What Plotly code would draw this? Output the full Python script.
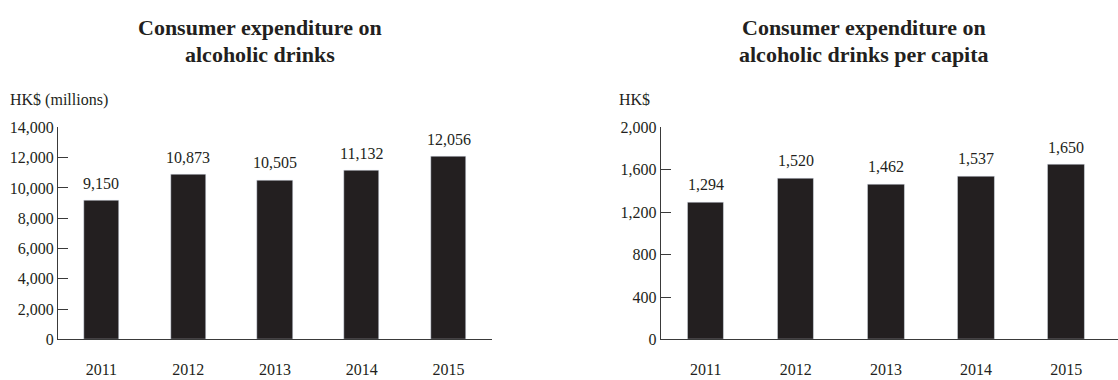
import plotly.graph_objects as go

# Data
years = ["2011", "2012", "2013", "2014", "2015"]
expenditure_millions = [9150, 10873, 10505, 11132, 12056]
expenditure_per_capita = [1294, 1520, 1462, 1537, 1650]

left_ticks = [0, 2000, 4000, 6000, 8000, 10000, 12000, 14000]
right_ticks = [0, 400, 800, 1200, 1600, 2000]

left_title = ["Consumer expenditure on", "alcoholic drinks"]
right_title = ["Consumer expenditure on", "alcoholic drinks per capita"]
left_unit = "HK$ (millions)"
right_unit = "HK$"

W, H = 1118, 380
INK = "#231f20"
AXIS = "#3a3a3a"
FONT = "Liberation Serif, Times New Roman, serif"


def px(x):
    return x / W


def py(y):
    return 1 - y / H


fig = go.Figure()

fig.add_trace(go.Bar(x=years, y=expenditure_millions, marker_color=INK,
                     width=0.405, xaxis="x", yaxis="y", showlegend=False,
                     hoverinfo="x+y"))
fig.add_trace(go.Bar(x=years, y=expenditure_per_capita, marker_color=INK,
                     width=0.405, xaxis="x2", yaxis="y2", showlegend=False,
                     hoverinfo="x+y"))

annotations = []
# value labels above each bar (category axes are positioned by index)
for ys, xr, yr in [(expenditure_millions, "x", "y"),
                   (expenditure_per_capita, "x2", "y2")]:
    for i, yv in enumerate(ys):
        annotations.append(dict(x=i, y=yv, xref=xr, yref=yr, text=f"{yv:,}",
                                showarrow=False, yanchor="bottom", yshift=7,
                                font=dict(family=FONT, size=16, color=INK)))

# two-line titles
for cx, lines in [(260, left_title), (864, right_title)]:
    for i, line in enumerate(lines):
        annotations.append(dict(x=px(cx), y=py(20 + 29 * i), xref="paper", yref="paper",
                                text=f"<b>{line}</b>", showarrow=False,
                                xanchor="center", yanchor="middle",
                                font=dict(family=FONT, size=22, color=INK)))

# unit labels
annotations.append(dict(x=px(8), y=py(96), xref="paper", yref="paper", text=left_unit,
                        showarrow=False, xanchor="left", yanchor="middle",
                        font=dict(family=FONT, size=16, color=INK)))
annotations.append(dict(x=px(617), y=py(96), xref="paper", yref="paper", text=right_unit,
                        showarrow=False, xanchor="left", yanchor="middle",
                        font=dict(family=FONT, size=16, color=INK)))

axis_common = dict(showline=True, linecolor=AXIS, linewidth=1, showgrid=False,
                   zeroline=False, tickfont=dict(family=FONT, size=16, color=INK),
                   fixedrange=True)

fig.update_layout(
    width=W, height=H,
    margin=dict(l=0, r=0, t=0, b=0),
    paper_bgcolor="white", plot_bgcolor="white",
    bargap=0,
    annotations=annotations,
    xaxis=dict(type="category", domain=[px(58), px(492)], range=[-0.5, 4.5], ticks="",
               ticklabelstandoff=15, anchor="y", **axis_common),
    yaxis=dict(domain=[py(347), py(125)], range=[0, 14000], tickvals=left_ticks,
               tickformat=",d", ticks="inside", ticklen=10, tickcolor=AXIS,
               anchor="x", **axis_common),
    xaxis2=dict(type="category", domain=[px(660.7), 1.0], range=[-0.5, 4.575], ticks="",
                ticklabelstandoff=15, anchor="y2", **axis_common),
    yaxis2=dict(domain=[py(347), py(125)], range=[0, 2000], tickvals=right_ticks,
                tickformat=",d", ticks="inside", ticklen=10, tickcolor=AXIS,
                anchor="x2", **axis_common),
)

fig.write_html("out.html")
